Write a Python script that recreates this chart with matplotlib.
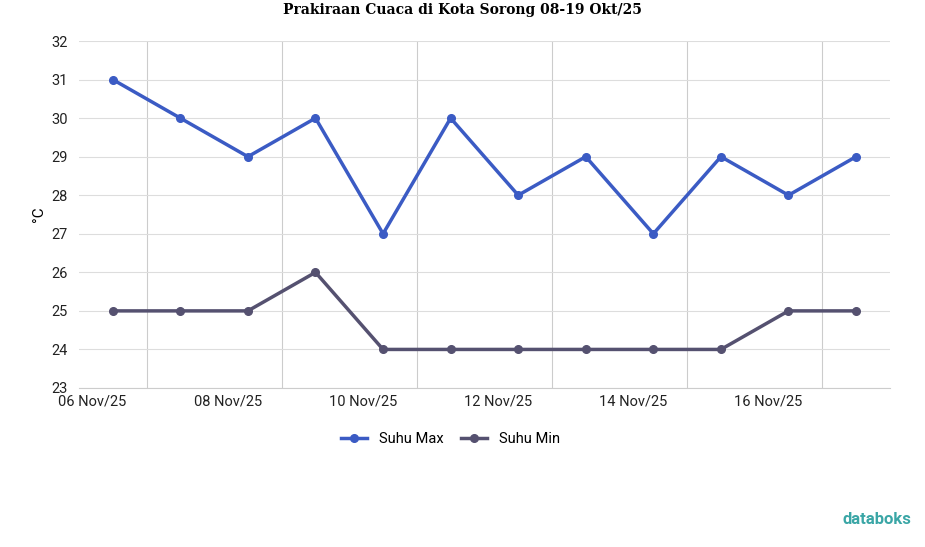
import matplotlib.pyplot as plt
import numpy as np

plt.rcParams['font.family'] = ['Roboto', 'DejaVu Sans']

# Data
suhu_max = [31, 30, 29, 30, 27, 30, 28, 29, 27, 29, 28, 29]
suhu_min = [25, 25, 25, 26, 24, 24, 24, 24, 24, 24, 25, 25]
tick_labels = ["06 Nov/25", "08 Nov/25", "10 Nov/25", "12 Nov/25", "14 Nov/25", "16 Nov/25"]

x = np.arange(len(suhu_max))

fig = plt.figure(figsize=(9.25, 5.47), dpi=100)
ax = fig.add_axes([0.0854, 0.2907, 0.8766, 0.6343])

ax.plot(x, suhu_max, color="#3b5bc4", lw=2.5, marker="o", ms=5.5, label="Suhu Max")
ax.plot(x, suhu_min, color="#555170", lw=2.5, marker="o", ms=5.5, label="Suhu Min")

ax.set_xlim(-0.5, 11.5)
ax.set_ylim(23, 32)
ax.set_yticks(range(23, 33))
ax.set_xticks([-0.3 + 2 * k for k in range(len(tick_labels))])
ax.set_xticklabels(tick_labels)
ax.set_xticks([0.5 + 2 * k for k in range(6)], minor=True)
ax.tick_params(which="both", length=0, labelsize=10.5, colors="#222222")
ax.tick_params(axis="y", pad=8)
ax.tick_params(axis="x", pad=5)
ax.grid(axis="y", color="#dddddd", lw=0.8)
ax.grid(axis="x", which="minor", color="#cccccc", lw=0.8)
for s in ["top", "right", "left"]:
    ax.spines[s].set_visible(False)
ax.spines["bottom"].set_color("#cccccc")
ax.set_ylabel("°C", fontsize=11)

fig.suptitle("Prakiraan Cuaca di Kota Sorong 08-19 Okt/25", y=0.995, fontsize=10,
             fontweight="bold", family="DejaVu Serif")
fig.legend(loc="center", bbox_to_anchor=(0.487, 0.197), ncol=2, frameon=False,
           fontsize=10.5, handlelength=1.8, columnspacing=1.2)
fig.text(0.985, 0.05, "databoks", ha="right", va="center", fontsize=12,
         color="#3aa6a6", fontweight="bold")

fig.savefig("out.png", dpi=100)
